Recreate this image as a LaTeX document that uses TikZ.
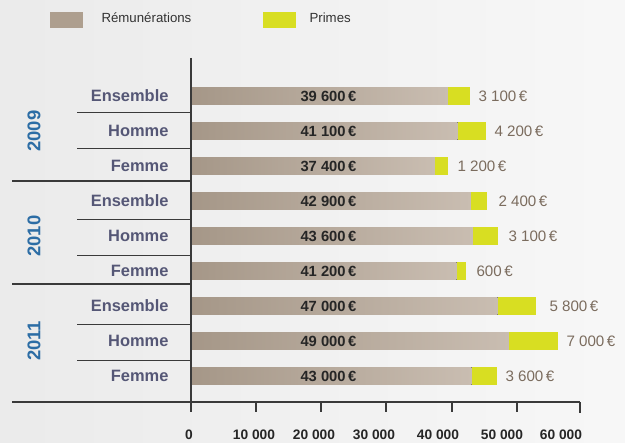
\documentclass[tikz,border=0pt]{standalone}
\usepackage{fontspec}
\setmainfont{Liberation Sans}
\usepackage{tikz}
\usetikzlibrary{calc}
\definecolor{remun}{HTML}{AE9F8F}
\definecolor{remunlight}{HTML}{C9BDB1}
\definecolor{primecol}{HTML}{D8DE22}
\definecolor{yearblue}{HTML}{2C6DA5}
\definecolor{cattext}{HTML}{555776}
\definecolor{axisgrey}{HTML}{3A3A3A}
\definecolor{primetext}{HTML}{7B6C5E}
\newcommand{\eur}{\,€}
\tikzset{
  /tikz/.cd,
  remunbar/.style={left color=remun!95!black,right color=remunlight},
  primebar/.style={fill=primecol},
  axisline/.style={draw=axisgrey,line width=1.3pt}
}

\begin{document}
\begin{tikzpicture}[x=1bp,y=-1bp,
                    cat/.style={anchor=east,text=cattext,font=\bfseries\fontsize{16.5}{19}\selectfont},
                    year/.style={rotate=90,text=yearblue,font=\bfseries\fontsize{18.5}{21}\selectfont},
                    value/.style={anchor=west,text=black!85,font=\bfseries\fontsize{14.8}{17}\selectfont},
                    prime/.style={anchor=west,text=primetext,font=\fontsize{15.2}{17}\selectfont},
                    tick/.style={text=black!85,font=\bfseries\fontsize{13.8}{16}\selectfont},
                    legend/.style={anchor=west,text=black!80,font=\fontsize{13.3}{16}\selectfont}]
      \useasboundingbox (0,0) rectangle (625,443);
      \fill[left color=black!8!white,right color=black!3!white] (0,0) rectangle (625,443);

      % legend
      \fill[remun] (50,12) rectangle (83,28);
      \node[legend] (lrem) at (98,18) {Rémunérations};
      \fill[primecol] (263,12) rectangle (296,28);
      \node[legend] (lpri) at (306,18) {Primes};

      % row labels
      \node[year] (y09) at (34,131) {2009};
      \node[year] (y10) at (34,236) {2010};
      \node[year] (y11) at (34,341) {2011};

      \node[cat] (ens09) at (172,96) {Ensemble};
      \node[cat] (hom09) at (172,131) {Homme};
      \node[cat] (fem09) at (172,166) {Femme};
      \node[cat] (ens10) at (172,201) {Ensemble};
      \node[cat] (hom10) at (172,236) {Homme};
      \node[cat] (fem10) at (172,271) {Femme};
      \node[cat] (ens11) at (172,306) {Ensemble};
      \node[cat] (hom11) at (172,341) {Homme};
      \node[cat] (fem11) at (172,376) {Femme};

      \draw[axisline,line width=1pt] (77,113) -- (191,113);
      \draw[axisline,line width=1pt] (77,149) -- (191,149);
      \draw[axisline] (12,181) -- (191,181);
      \draw[axisline,line width=1pt] (77,219) -- (191,219);
      \draw[axisline,line width=1pt] (77,255) -- (191,255);
      \draw[axisline] (12,284) -- (191,284);
      \draw[axisline,line width=1pt] (77,324) -- (191,324);
      \draw[axisline,line width=1pt] (77,360) -- (191,360);

      % bars
      \fill[remunbar] (191,87.25) rectangle (448,104.75);
      \fill[primebar] (448,87.25) rectangle (470,104.75);
      \node[value] (v1) at (297,96) {39 600\eur};
      \node[prime] (p1) at (475,96) {3 100\eur};

      \fill[remunbar] (191,122.25) rectangle (457.7,139.75);
      \fill[primebar] (457.7,122.25) rectangle (486,139.75);
      \node[value] (v2) at (297,131) {41 100\eur};
      \node[prime] (p2) at (491,131) {4 200\eur};

      \fill[remunbar] (191,157.25) rectangle (435,174.75);
      \fill[primebar] (435,157.25) rectangle (447.7,174.75);
      \node[value] (v3) at (297,166) {37 400\eur};
      \node[prime] (p3) at (454,166) {1 200\eur};

      \fill[remunbar] (191,192.25) rectangle (471,209.75);
      \fill[primebar] (471,192.25) rectangle (486.7,209.75);
      \node[value] (v4) at (297,201) {42 900\eur};
      \node[prime] (p4) at (495,201) {2 400\eur};

      \fill[remunbar] (191,227.25) rectangle (473.3,244.75);
      \fill[primebar] (473.3,227.25) rectangle (497.7,244.75);
      \node[value] (v5) at (297,236) {43 600\eur};
      \node[prime] (p5) at (505,236) {3 100\eur};

      \fill[remunbar] (191,262.25) rectangle (456.7,279.75);
      \fill[primebar] (456.7,262.25) rectangle (465.7,279.75);
      \node[value] (v6) at (297,271) {41 200\eur};
      \node[prime] (p6) at (473,271) {600\eur};

      \fill[remunbar] (191,297.25) rectangle (497.7,314.75);
      \fill[primebar] (497.7,297.25) rectangle (536,314.75);
      \node[value] (v7) at (297,306) {47 000\eur};
      \node[prime] (p7) at (546,306) {5 800\eur};

      \fill[remunbar] (191,332.25) rectangle (509,349.75);
      \fill[primebar] (509,332.25) rectangle (557.7,349.75);
      \node[value] (v8) at (297,341) {49 000\eur};
      \node[prime] (p8) at (563,341) {7 000\eur};

      \fill[remunbar] (191,367.25) rectangle (471.7,384.75);
      \fill[primebar] (471.7,367.25) rectangle (496.7,384.75);
      \node[value] (v9) at (297,376) {43 000\eur};
      \node[prime] (p9) at (502,376) {3 600\eur};

      % axes
      \draw[axisline] (191,58) -- (191,412);
      \draw[axisline] (12,402) -- (580,402);
      \draw[axisline] (256,402) -- (256,412);
      \draw[axisline] (321,402) -- (321,412);
      \draw[axisline] (386,402) -- (386,412);
      \draw[axisline] (452,402) -- (452,412);
      \draw[axisline] (517,402) -- (517,412);
      \draw[axisline] (580,402) -- (580,413);

      \node[tick] (t0) at (189,435) {0};
      \node[tick] (t1) at (254,435) {10 000};
      \node[tick] (t2) at (314,435) {20 000};
      \node[tick] (t3) at (374,435) {30 000};
      \node[tick] (t4) at (438,435) {40 000};
      \node[tick] (t5) at (502,435) {50 000};
      \node[tick] (t6) at (561,435) {60 000};
    \end{tikzpicture}
\end{document}
